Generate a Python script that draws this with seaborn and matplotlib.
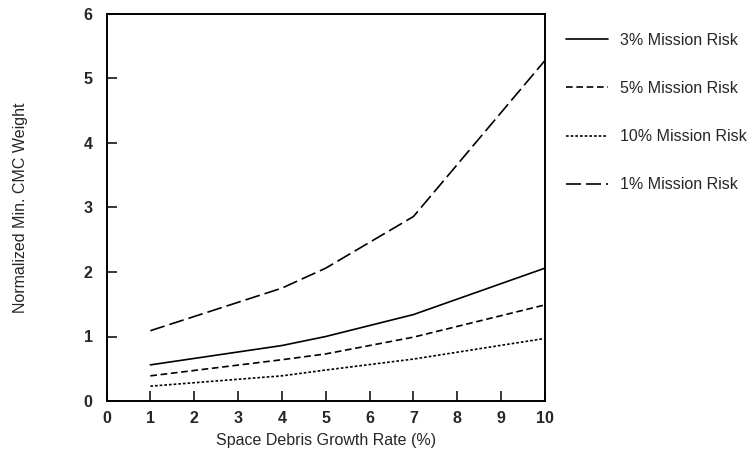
import matplotlib
matplotlib.use("Agg")
import matplotlib.pyplot as plt
import seaborn as sns
import pandas as pd

# Space debris growth rate (%) at which each curve was evaluated
growth_rate = [1, 4, 5, 7, 10]

# Normalized minimum CMC weight for each mission-risk level
risk_3pct = [0.56, 0.86, 1.00, 1.34, 2.06]
risk_5pct = [0.39, 0.64, 0.73, 0.99, 1.49]
risk_10pct = [0.23, 0.39, 0.48, 0.65, 0.97]
risk_1pct = [1.09, 1.75, 2.06, 2.86, 5.28]

series_labels = ["3% Mission Risk", "5% Mission Risk", "10% Mission Risk", "1% Mission Risk"]
x_ticks = list(range(0, 11))
y_ticks = list(range(0, 7))

sns.set_theme(style="white")
plt.rcParams["font.family"] = ["Liberation Sans", "DejaVu Sans"]

frames = []
for label, vals in zip(series_labels, [risk_3pct, risk_5pct, risk_10pct, risk_1pct]):
    frames.append(pd.DataFrame({"rate": growth_rate, "weight": vals, "series": label}))
df = pd.concat(frames, ignore_index=True)

dash_styles = {
    "3% Mission Risk": "",
    "5% Mission Risk": (4.0, 2.2),
    "10% Mission Risk": (1.6, 1.2),
    "1% Mission Risk": (9.0, 3.0),
}
palette = {s: "black" for s in series_labels}
FS = 11.5

fig = plt.figure(figsize=(7.49, 4.65), dpi=100)
ax = fig.add_axes([106.5 / 749, 1 - 401 / 465, (545 - 106.5) / 749, (401 - 14) / 465])

sns.lineplot(data=df, x="rate", y="weight", hue="series", style="series",
             hue_order=series_labels, style_order=series_labels,
             palette=palette, dashes=dash_styles, linewidth=1.2, ax=ax, legend=False)

ax.set_xlim(0, 10)
ax.set_ylim(0, 6)
ax.set_xticks(x_ticks)
ax.set_yticks(y_ticks)
ax.tick_params(axis="both", direction="in", length=7, width=1.1, color="black",
               labelsize=FS, bottom=True, left=True)
ax.tick_params(axis="x", pad=7.5)
ax.tick_params(axis="y", pad=10)
for lbl in ax.get_xticklabels() + ax.get_yticklabels():
    lbl.set_fontweight("bold")
for sp in ax.spines.values():
    sp.set_color("black")
    sp.set_linewidth(1.4)

ax.set_xlabel("Space Debris Growth Rate (%)", fontsize=FS, labelpad=5)
ax.set_ylabel("Normalized Min. CMC Weight", fontsize=FS, labelpad=40)

# Legend to the right of the plotting area
handles = []
for s in series_labels:
    d = dash_styles[s]
    ls = "-" if d == "" else (0, d)
    h, = ax.plot([], [], color="black", lw=1.2, ls=ls)
    handles.append(h)
fig.legend(handles, series_labels, loc="upper left",
           bbox_to_anchor=(566 / 749, 1 - 33 / 465), frameon=False,
           fontsize=FS, handlelength=2.6, handletextpad=0.75, labelspacing=2.07,
           borderaxespad=0, borderpad=0)

fig.savefig("out.png", dpi=100)
